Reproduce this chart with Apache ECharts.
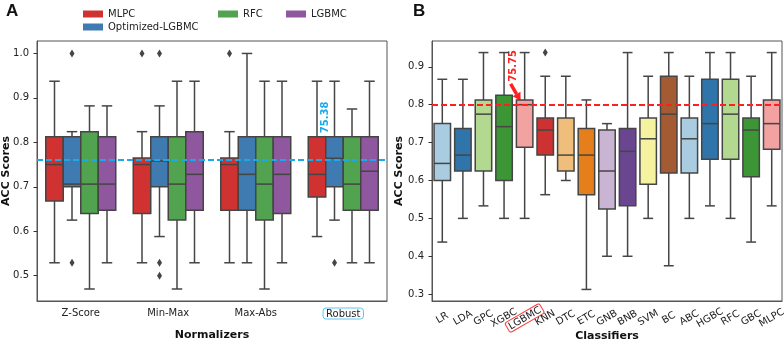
<!DOCTYPE html>
<html>
<head>
<meta charset="utf-8">
<script src="https://cdn.jsdelivr.net/npm/echarts@6/dist/echarts.min.js"></script>
<style>
  html, body { margin: 0; padding: 0; background: #fff; }
  #chart { width: 784px; height: 342px; }
</style>
</head>
<body>
<div id="chart"></div>
<script>
// ---- panel A data: [min, Q1, median, Q3, max] per normalizer
const normalizers = ['Z-Score', 'Min-Max', 'Max-Abs', 'Robust'];
const models = ['MLPC', 'Optimized-LGBMC', 'RFC', 'LGBMC'];
const mlpcBoxes = [
  [0.529, 0.668, 0.75, 0.8125, 0.9375],
  [0.529, 0.64, 0.75, 0.765, 0.824],
  [0.529, 0.647, 0.75, 0.765, 0.824],
  [0.588, 0.677, 0.728, 0.8125, 0.9375]
];
const optLgbmcBoxes = [
  [0.625, 0.70, 0.706, 0.8125, 0.824],
  [0.588, 0.70, 0.758, 0.8125, 0.882],
  [0.529, 0.647, 0.728, 0.8125, 1.0],
  [0.625, 0.70, 0.764, 0.8125, 0.9375]
];
const rfcBoxes = [
  [0.47, 0.64, 0.706, 0.824, 0.882],
  [0.47, 0.625, 0.706, 0.8125, 0.9375],
  [0.47, 0.625, 0.706, 0.8125, 0.9375],
  [0.529, 0.647, 0.706, 0.8125, 0.875]
];
const lgbmcBoxes = [
  [0.529, 0.647, 0.706, 0.8125, 0.882],
  [0.529, 0.647, 0.728, 0.824, 0.9375],
  [0.529, 0.64, 0.728, 0.8125, 0.9375],
  [0.529, 0.647, 0.735, 0.8125, 0.9375]
];
// outliers per normalizer
const mlpcFliers = [[], [1.0], [1.0], []];
const optLgbmcFliers = [[1.0, 0.529], [1.0, 0.529, 0.5], [], [0.529]];
const rfcFliers = [[], [], [], []];
const lgbmcFliers = [[], [], [], []];
const leftMean = 0.7638;
const leftMeanText = '75.38';
const leftTicks = [0.5, 0.6, 0.7, 0.8, 0.9, 1.0];

// ---- panel B data
const classifiers = ['LR', 'LDA', 'GPC', 'XGBC', 'LGBMC', 'KNN', 'DTC', 'ETC', 'GNB',
  'BNB', 'SVM', 'BC', 'ABC', 'HGBC', 'RFC', 'GBC', 'MLPC'];
const classifierBoxes = [
  [0.4375, 0.60, 0.645, 0.75, 0.867],
  [0.5, 0.625, 0.667, 0.737, 0.867],
  [0.533, 0.625, 0.775, 0.8125, 0.9375],
  [0.5, 0.60, 0.742, 0.825, 0.9375],
  [0.5, 0.6875, 0.80, 0.8125, 0.9375],
  [0.5625, 0.667, 0.733, 0.765, 0.875],
  [0.60, 0.625, 0.667, 0.765, 0.875],
  [0.3125, 0.5625, 0.667, 0.737, 0.8125],
  [0.40, 0.525, 0.625, 0.733, 0.75],
  [0.40, 0.533, 0.677, 0.737, 0.9375],
  [0.5, 0.59, 0.71, 0.765, 0.875],
  [0.375, 0.62, 0.775, 0.875, 0.9375],
  [0.5, 0.62, 0.71, 0.765, 0.875],
  [0.533, 0.656, 0.75, 0.867, 0.9375],
  [0.5, 0.656, 0.775, 0.867, 0.9375],
  [0.4375, 0.61, 0.733, 0.765, 0.875],
  [0.533, 0.6825, 0.75, 0.8125, 0.9375]
];
const classifierFliers = [[], [], [], [], [], [0.9375], [], [], [], [], [], [], [], [], [], [], []];
const rightMean = 0.8025;
const rightMeanText = '75.75';
const rightTicks = [0.3, 0.4, 0.5, 0.6, 0.7, 0.8, 0.9];

const modelColors = ['#d03232', '#3f7ab0', '#52a350', '#8f579d'];
const classifierColors = ['#a9cce0', '#2f75aa', '#b3d990', '#3c9636', '#f2a2a1', '#cd3131',
  '#efbe7b', '#e47f1c', '#c9b5d3', '#6a4590', '#f5f3a0', '#a45b34',
  '#a9cce0', '#2f75aa', '#b3d990', '#3c9636', '#f2a2a1'];
const EDGE = '#454545';
const BLUE = '#1aa9ea';
const RED = '#ff1f1f';

function drawBox(api, color, shift, widthRatio, fliers) {
  const cat = api.value(0);
  const band = api.size([1, 0])[0];
  const w = band * widthRatio;
  const cx = api.coord([cat, 0])[0] + band * shift;
  const y = i => api.coord([cat, api.value(i)])[1];
  const yMin = y(1), yQ1 = y(2), yMed = y(3), yQ3 = y(4), yMax = y(5);
  const edge = { stroke: EDGE, lineWidth: 1.5 };
  const cap = w * 0.3;
  const children = [
    { type: 'line', shape: { x1: cx, y1: yQ1, x2: cx, y2: yMin }, style: edge },
    { type: 'line', shape: { x1: cx, y1: yQ3, x2: cx, y2: yMax }, style: edge },
    { type: 'line', shape: { x1: cx - cap, y1: yMin, x2: cx + cap, y2: yMin }, style: edge },
    { type: 'line', shape: { x1: cx - cap, y1: yMax, x2: cx + cap, y2: yMax }, style: edge },
    { type: 'rect', shape: { x: cx - w / 2, y: yQ3, width: w, height: yQ1 - yQ3 },
      style: { fill: color, stroke: EDGE, lineWidth: 1.5 } },
    { type: 'line', shape: { x1: cx - w / 2, y1: yMed, x2: cx + w / 2, y2: yMed }, style: edge }
  ];
  (fliers || []).forEach(v => {
    const fy = api.coord([cat, v])[1];
    children.push({ type: 'polygon',
      shape: { points: [[cx, fy - 4], [cx + 2.5, fy], [cx, fy + 4], [cx - 2.5, fy]] },
      style: { fill: EDGE } });
  });
  return { type: 'group', children };
}

const leftSets = [
  [mlpcBoxes, mlpcFliers],
  [optLgbmcBoxes, optLgbmcFliers],
  [rfcBoxes, rfcFliers],
  [lgbmcBoxes, lgbmcFliers]
];

const leftSeries = models.map((name, k) => ({
  name: name,
  type: 'custom',
  xAxisIndex: 0,
  yAxisIndex: 0,
  itemStyle: { color: modelColors[k] },
  encode: { x: 0, y: [1, 2, 3, 4, 5] },
  data: leftSets[k][0].map((b, i) => [i].concat(b)),
  renderItem: (params, api) =>
    drawBox(api, modelColors[k], (k - 1.5) * 0.2, 0.2, leftSets[k][1][params.dataIndex])
}));

const rightSeries = {
  name: 'Classifiers',
  type: 'custom',
  xAxisIndex: 1,
  yAxisIndex: 1,
  encode: { x: 0, y: [1, 2, 3, 4, 5] },
  data: classifierBoxes.map((b, i) => [i].concat(b)),
  renderItem: (params, api) =>
    drawBox(api, classifierColors[params.dataIndex], 0, 0.8, classifierFliers[params.dataIndex])
};

function meanLine(axisIdx, value, color) {
  return {
    type: 'line',
    xAxisIndex: axisIdx,
    yAxisIndex: axisIdx,
    data: [],
    markLine: {
      silent: true,
      symbol: 'none',
      label: { show: false },
      lineStyle: { color: color, type: [6, 3], width: 2 },
      data: [{ yAxis: value }]
    }
  };
}

const axisText = { color: '#222', fontSize: 10 };
const nameText = { color: '#111', fontSize: 11, fontWeight: 'bold' };

const option = {
  animation: false,
  textStyle: { fontFamily: 'DejaVu Sans' },
  legend: [
    { data: models.slice(0, 2), orient: 'vertical', left: 78, top: 4, itemGap: 3 },
    { data: [models[2]], left: 213, top: 4 },
    { data: [models[3]], left: 281, top: 4 }
  ].map(l => Object.assign(l, {
    icon: 'rect', itemWidth: 20, itemHeight: 7, selectedMode: false,
    textStyle: { color: '#222', fontSize: 10 }
  })),
  grid: [
    { left: 37, top: 41, width: 350, height: 260 },
    { left: 432, top: 41, width: 350, height: 260 }
  ].map(g => Object.assign(g, {
    show: true, borderColor: '#555', borderWidth: 1, containLabel: false, outerBoundsMode: 'none'
  })),
  xAxis: [
    {
      gridIndex: 0, type: 'category', data: normalizers,
      axisLine: { lineStyle: { color: '#555' } },
      axisTick: { alignWithLabel: true, length: 3.5, lineStyle: { color: '#333' } },
      axisLabel: Object.assign({
        interval: 0, margin: 7,
        formatter: v => v === 'Robust' ? '{hl|' + v + '}' : v,
        rich: { hl: { fontSize: 10, color: '#222', borderColor: '#5cc6f2', borderWidth: 1,
          borderRadius: 3, padding: [1, 3, 0, 3] } }
      }, axisText),
      name: 'Normalizers', nameLocation: 'middle', nameGap: 29, nameMoveOverlap: false,
      nameTextStyle: nameText
    },
    {
      gridIndex: 1, type: 'category', data: classifiers,
      axisLine: { lineStyle: { color: '#555' } },
      axisTick: { alignWithLabel: true, length: 3.5, lineStyle: { color: '#333' } },
      axisLabel: Object.assign({
        interval: 0, rotate: 30, align: 'center', verticalAlign: 'middle', margin: 17,
        hideOverlap: false,
        formatter: v => v === 'LGBMC' ? '{hl|' + v + '}' : v,
        rich: { hl: { fontSize: 10, color: '#222', borderColor: '#ff3b3b', borderWidth: 1,
          borderRadius: 2, padding: [1, 2, 0, 2] } }
      }, axisText),
      name: 'Classifiers', nameLocation: 'middle', nameGap: 30, nameMoveOverlap: false,
      nameTextStyle: nameText
    }
  ],
  yAxis: [
    {
      gridIndex: 0, type: 'value', min: 0.443, max: 1.028,
      splitLine: { show: false },
      axisLine: { show: true, lineStyle: { color: '#555' } },
      axisTick: { show: true, length: 3.5, customValues: leftTicks, lineStyle: { color: '#333' } },
      axisLabel: Object.assign({ customValues: leftTicks, formatter: v => v.toFixed(1) }, axisText),
      name: 'ACC Scores', nameLocation: 'middle', nameGap: 25, nameMoveOverlap: false,
      nameTextStyle: nameText
    },
    {
      gridIndex: 1, type: 'value', min: 0.282, max: 0.968,
      splitLine: { show: false },
      axisLine: { show: true, lineStyle: { color: '#555' } },
      axisTick: { show: true, length: 3.5, customValues: rightTicks, lineStyle: { color: '#333' } },
      axisLabel: Object.assign({ customValues: rightTicks, formatter: v => v.toFixed(1) }, axisText),
      name: 'ACC Scores', nameLocation: 'middle', nameGap: 27, nameMoveOverlap: false,
      nameTextStyle: nameText
    }
  ],
  series: leftSeries.concat([rightSeries, meanLine(0, leftMean, BLUE), meanLine(1, rightMean, RED)])
};

const chart = echarts.init(document.getElementById('chart'), null, { renderer: 'canvas' });
chart.setOption(option);

function arrow(x1, y1, x2, y2, color) {
  const ang = Math.atan2(y2 - y1, x2 - x1);
  const head = 8, half = 4.5;
  const bx = x2 - head * Math.cos(ang), by = y2 - head * Math.sin(ang);
  const px = -Math.sin(ang) * half, py = Math.cos(ang) * half;
  return [
    { type: 'line', silent: true, shape: { x1: x1, y1: y1, x2: bx, y2: by },
      style: { stroke: color, lineWidth: 3.5 } },
    { type: 'polygon', silent: true,
      shape: { points: [[x2, y2], [bx + px, by + py], [bx - px, by - py]] },
      style: { fill: color } }
  ];
}

function vText(x, y, text, color) {
  return { type: 'text', x: x, y: y, rotation: Math.PI / 2, silent: true,
    style: { text: text, fill: color, fontSize: 10, fontWeight: 'bold', fontFamily: 'DejaVu Sans',
      align: 'center', verticalAlign: 'middle' } };
}

// annotation anchors from the axes
const bandL = 350 / normalizers.length;
const [rx, ry] = chart.convertToPixel({ gridIndex: 0 }, [3, leftMean]);
const optX = rx - bandL * 0.1;
const [lx, ly] = chart.convertToPixel({ gridIndex: 1 }, [4, classifierBoxes[4][3]]);

chart.setOption({
  graphic: [
    { type: 'text', left: 6, top: 3, style: { text: 'A', fontSize: 17, fontWeight: 'bold', fill: '#111' } },
    { type: 'text', left: 413, top: 3, style: { text: 'B', fontSize: 17, fontWeight: 'bold', fill: '#111' } },
    vText(optX - 9, ry - 41, leftMeanText, BLUE),
    vText(lx - 11, ly - 34, rightMeanText, RED)
  ].concat(arrow(optX - 11, ry - 22, optX - 1, ry - 6, BLUE))
   .concat(arrow(lx - 14, ly - 16, lx - 4, ly + 1, RED))
});
</script>
</body>
</html>
